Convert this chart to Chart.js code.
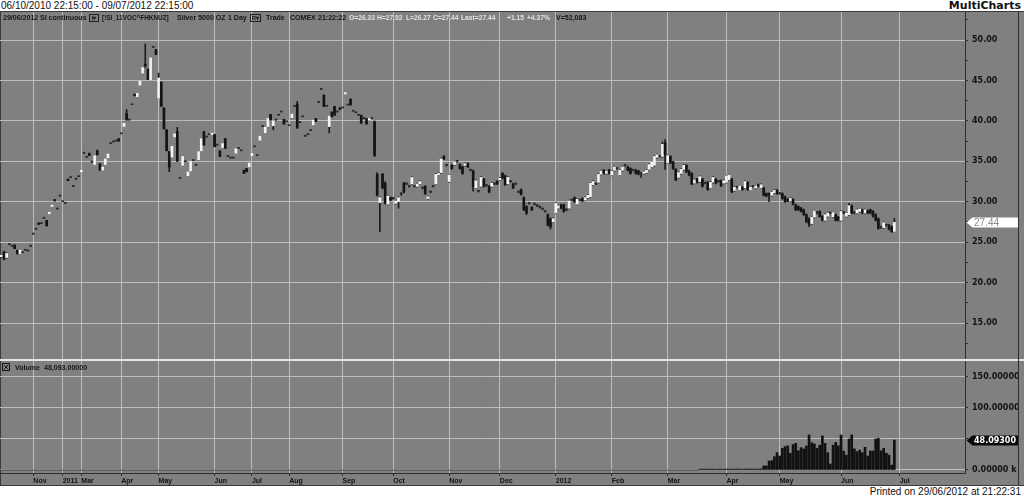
<!DOCTYPE html>
<html><head><meta charset="utf-8">
<script src="https://cdn.jsdelivr.net/npm/chart.js@4/dist/chart.umd.min.js"></script>
<style>
html,body{margin:0;padding:0;background:#fff;width:1024px;height:497px;overflow:hidden;}
#hdr{position:absolute;left:1px;top:0px;font:10px 'Liberation Sans',Arial,sans-serif;color:#111;line-height:11px;white-space:pre;}
#brand{position:absolute;right:3px;top:0px;font:bold 11px 'DejaVu Sans',sans-serif;line-height:12px;color:#111;}
#frame{position:absolute;left:0;top:11px;width:1024px;height:475px;background:#808080;border-top:1px solid #3a3a3a;border-bottom:1px solid #3a3a3a;border-left:1px solid #3a3a3a;box-sizing:border-box;}
#pc{position:absolute;left:0;top:12px;}
#vc{position:absolute;left:0;top:361px;}
#sep{position:absolute;left:0;top:359px;width:1024px;height:2px;background:#e4e4e4;}
#vline{position:absolute;left:1018px;top:12px;width:1px;height:473px;background:#303030;}
.t{position:absolute;font:bold 8px 'Liberation Sans',Arial,sans-serif;color:#151515;white-space:pre;line-height:9px;transform:scaleX(0.88);transform-origin:0 0;}
.n{transform:scaleX(0.8);}
.lt{color:#e2e2e2;transform:scaleX(0.84);}
.bx{position:absolute;top:14px;height:6px;border:1px solid #202020;font:bold 6px 'Liberation Sans',Arial,sans-serif;line-height:6px;color:#151515;text-align:center;}
#vbox{position:absolute;left:2px;top:363px;}
#printed{position:absolute;right:3px;top:487px;font:10px 'Liberation Sans',Arial,sans-serif;color:#111;line-height:10px;}
</style>
</head><body>
<div id="hdr">06/10/2010 22:15:00 - 09/07/2012 22:15:00</div>
<div id="brand">MultiCharts</div>
<div id="frame"></div>
<canvas id="pc" width="1018" height="347"></canvas>
<div id="sep"></div>
<canvas id="vc" width="1018" height="124"></canvas>
<div id="vline"></div>

<span class="t" style="left:3px;top:13px">29/06/2012</span>
<span class="t" style="left:40px;top:13px">SI continuous</span>
<span class="bx" style="left:89px;width:8px">I▾</span>
<span class="t n" style="left:102px;top:13px">[!SI_11VOC^FHKNUZ]</span>
<span class="t" style="left:177px;top:13px">Silver 5000 OZ</span>
<span class="t" style="left:228px;top:13px">1 Day</span>
<span class="bx" style="left:250px;width:9px">R▾</span>
<span class="t" style="left:266px;top:13px">Trade</span>
<span class="t" style="left:290px;top:13px">COMEX</span>
<span class="t" style="left:318px;top:13px">21:22:22</span>
<span class="t lt" style="left:349px;top:13px">O=26.33</span>
<span class="t lt" style="left:377px;top:13px">H=27.92</span>
<span class="t lt" style="left:406px;top:13px">L=26.27</span>
<span class="t lt" style="left:433px;top:13px">C=27.44</span>
<span class="t lt" style="left:461px;top:13px">Last=27.44</span>
<span class="t lt" style="left:507px;top:13px">+1.15</span>
<span class="t lt" style="left:527px;top:13px">+4.37%</span>
<span class="t" style="left:556px;top:13px">V=52,083</span>

<svg id="vbox" width="8" height="8" viewBox="0 0 8 8"><rect x="0.5" y="0.5" width="7" height="7" fill="none" stroke="#151515"/><path d="M2 2L6 6M6 2L2 6" stroke="#151515" stroke-width="1"/></svg>
<span class="t" style="left:15px;top:363px">Volume</span>
<span class="t" style="left:44px;top:363px">48,093.00000</span>
<div id="printed">Printed on 29/06/2012 at 21:22:31</div>
<script>
// ---- data (one entry per daily bar) ----
const open = [
23.2,23.8,23.1,24.7,24.5,24.6,24.0,23.6,23.7,24.0,
23.9,24.5,26.0,26.6,27.35,27.3,27.95,27.7,28.5,29.4,
30.25,29.1,30.7,30.0,29.8,32.8,33.0,31.9,32.8,33.1,
33.7,36.0,35.5,36.0,34.9,34.6,36.3,34.7,33.9,34.6,
35.4,37.2,37.4,37.5,37.8,38.4,39.3,40.9,40.1,42.0,
43.3,43.0,44.4,45.9,47.0,46.4,45.1,49.1,48.8,42.8,
44.8,41.6,38.9,36.2,35.5,38.0,38.7,32.9,34.5,34.95,
33.2,33.8,35.1,34.5,35.2,36.3,38.7,38.0,38.3,38.3,
38.3,37.0,36.3,36.7,37.8,35.6,35.4,35.4,36.0,36.6,
36.3,33.9,34.1,34.3,35.7,36.8,35.7,37.6,39.3,38.5,
39.3,40.8,39.4,40.1,40.7,41.1,40.2,39.9,39.4,40.4,
41.8,42.1,39.8,40.5,38.1,38.3,38.8,39.5,40.3,42.3,
43.9,43.2,41.8,39.3,41.1,41.8,41.1,41.6,41.6,43.3,
41.96,42.7,41.2,41.0,40.7,40.7,40.3,40.3,40.1,40.3,
39.9,33.4,29.9,33.4,32.3,29.7,30.5,30.4,29.8,30.0,
30.95,32.3,32.2,31.9,32.2,31.9,31.9,32.2,31.7,31.9,
30.4,31.2,31.9,32.2,33.3,33.6,35.6,34.5,32.5,34.5,
34.6,35.0,34.6,34.3,34.5,34.7,33.9,33.8,31.7,31.3,
31.9,32.8,32.0,31.9,31.9,32.2,32.5,32.7,33.5,33.2,
32.2,32.5,32.2,32.2,31.2,31.5,30.5,29.4,29.8,29.3,
29.7,29.5,29.35,29.1,28.8,28.4,27.9,27.5,28.6,29.2,
29.6,29.6,29.0,29.2,30.2,30.5,29.7,30.2,30.4,30.2,
30.5,30.6,32.1,32.2,32.4,33.4,33.9,33.5,33.9,33.3,
33.9,34.1,33.3,33.9,34.5,34.3,34.1,33.9,33.9,33.8,
33.5,33.5,33.6,34.0,34.3,34.5,35.5,35.6,35.6,37.3,
34.8,35.6,34.95,34.0,33.0,33.5,34.0,34.5,33.8,33.5,
32.3,32.8,32.5,32.8,32.3,32.4,31.7,32.4,32.8,32.5,
32.6,32.3,32.4,32.7,32.8,31.4,31.8,31.45,31.8,31.7,
32.4,31.45,31.9,31.7,32.1,31.7,31.7,31.0,31.0,30.8,
31.1,31.45,31.0,31.0,30.6,30.3,30.1,30.3,29.6,29.4,
29.2,29.0,28.4,27.9,27.3,28.1,28.65,28.8,28.2,27.7,
28.2,28.6,28.15,28.4,28.1,27.7,28.65,28.2,28.4,29.5,
28.65,28.6,28.8,29.0,28.6,28.9,29.0,28.8,28.4,27.9,
26.8,26.8,27.1,27.1,26.9,26.33];
const close = [
23.4,22.9,23.6,24.7,24.5,24.2,23.6,24.05,23.7,24.0,
23.9,24.5,26.0,26.6,27.2,27.3,27.95,27.0,28.7,29.6,
30.1,29.1,30.7,30.0,29.8,32.6,33.0,31.9,32.8,33.1,
33.9,36.0,35.5,35.7,34.9,35.7,35.8,33.9,34.3,35.3,
35.9,37.2,37.4,37.5,37.5,38.4,39.7,40.1,40.1,42.0,
43.1,43.4,44.9,46.6,46.8,45.1,47.8,49.1,48.2,45.3,
41.8,39.0,36.3,34.3,36.85,38.4,35.0,32.9,35.6,34.95,
33.7,35.0,35.1,34.5,36.2,37.8,37.0,38.0,38.3,38.5,
36.8,37.0,35.6,37.2,36.6,35.6,35.4,35.4,36.55,36.6,
36.3,33.5,33.7,34.8,36.0,36.8,35.7,38.1,39.3,39.2,
40.3,40.1,40.0,40.1,40.7,41.1,39.6,39.9,39.4,40.85,
41.8,39.1,39.8,40.5,38.1,38.3,38.8,40.1,39.9,42.3,
43.9,41.8,41.8,40.6,40.5,40.7,41.1,41.4,41.6,43.5,
41.96,41.96,41.2,41.0,40.7,39.7,40.3,39.6,40.3,40.3,
35.7,30.8,30.5,31.7,29.8,30.7,30.2,30.4,30.1,30.5,
30.95,31.2,32.2,31.9,33.0,31.9,32.2,32.5,31.7,31.0,
30.6,31.2,31.9,33.4,33.5,35.3,35.3,34.5,33.3,34.1,
34.95,35.0,34.1,33.5,34.7,34.3,33.9,31.9,32.6,31.3,
33.0,31.9,32.0,31.2,32.3,32.2,32.2,32.9,32.9,32.1,
33.0,32.5,31.7,32.2,31.2,30.9,29.0,28.6,29.8,29.0,
29.7,29.5,29.35,29.1,28.8,27.1,26.9,27.9,29.8,29.5,
29.2,28.8,29.0,30.1,30.2,30.0,30.3,30.2,30.1,30.5,
30.8,32.3,32.5,32.2,33.4,33.8,33.5,33.8,33.5,33.8,
34.3,34.1,33.9,34.3,34.5,33.9,33.5,33.9,33.5,33.4,
33.5,33.7,33.9,34.6,34.95,35.6,35.8,35.6,37.1,35.8,
35.7,34.8,34.1,32.7,33.6,34.0,34.5,33.7,33.3,32.2,
32.7,32.4,33.1,31.9,32.3,31.5,32.4,33.0,32.3,32.5,
31.95,32.6,33.2,33.3,31.2,31.8,31.8,31.95,31.5,32.5,
31.5,31.8,31.9,31.95,31.9,32.1,30.8,30.7,30.8,31.2,
31.4,31.0,31.0,30.4,30.0,30.1,30.4,29.7,29.0,29.0,
28.8,28.4,27.5,27.2,28.1,28.85,28.65,28.15,27.7,28.4,
28.6,28.6,28.65,27.7,27.7,28.8,28.65,28.6,29.5,28.6,
28.65,29.0,29.1,28.6,29.0,28.6,28.6,28.2,27.7,26.7,
26.8,27.4,27.1,26.6,26.3,27.44];
const high = [
23.5,23.9,23.7,24.7,24.5,24.7,24.0,24.1,23.7,24.0,
23.9,24.5,26.0,26.6,27.4,27.3,27.95,27.7,28.7,29.6,
30.3,29.1,30.7,30.0,29.8,32.8,33.0,31.9,32.8,33.1,
33.9,36.0,35.5,36.0,34.9,35.7,36.4,34.7,34.3,35.3,
35.9,37.2,37.4,37.5,37.8,38.4,39.7,41.4,40.1,42.0,
43.3,43.4,44.9,46.6,49.5,46.4,47.8,49.1,48.8,45.9,
44.8,41.6,38.9,36.2,36.85,38.4,39.2,32.9,35.6,34.95,
33.7,35.0,35.1,34.5,36.2,37.8,38.7,38.0,38.3,38.5,
38.3,37.0,36.3,37.2,37.8,35.6,35.4,35.4,36.55,36.6,
36.3,33.9,34.1,34.8,36.0,36.8,35.7,38.1,39.3,39.2,
40.3,40.8,40.0,40.1,40.7,41.1,40.2,39.9,39.4,40.85,
41.8,42.4,39.8,40.5,38.1,38.3,38.8,40.1,40.3,42.3,
43.9,43.2,41.8,40.6,41.1,41.8,41.1,41.6,41.6,43.5,
41.96,42.7,41.2,41.0,40.7,40.7,40.3,40.3,40.3,40.3,
40.0,33.6,30.6,33.5,32.5,30.8,30.6,30.5,30.2,30.6,
31.1,32.4,32.3,32.0,33.1,32.0,32.3,32.6,31.8,32.0,
30.7,31.3,32.0,33.5,33.6,35.4,35.7,34.6,33.4,34.6,
35.0,35.1,34.7,34.4,34.8,34.8,34.0,33.9,32.7,31.4,
33.1,32.9,32.1,32.0,32.4,32.3,32.6,33.0,33.6,33.3,
33.1,32.6,32.3,32.3,31.3,31.6,30.6,29.5,29.9,29.4,
29.8,29.6,29.4,29.2,28.9,28.5,28.0,28.0,29.9,29.6,
29.7,29.7,29.1,30.2,30.3,30.6,30.4,30.3,30.5,30.6,
30.9,32.4,32.6,32.3,33.5,33.9,34.0,33.9,34.0,33.9,
34.4,34.2,34.0,34.4,34.6,34.4,34.2,34.0,34.0,33.9,
33.6,33.8,34.0,34.7,35.0,35.7,35.9,35.7,37.4,37.7,
35.8,35.7,35.0,34.1,33.7,34.1,34.6,34.6,33.9,33.6,
32.8,32.9,33.2,32.9,32.4,32.5,32.5,33.1,32.9,32.6,
32.7,32.7,33.3,33.4,32.9,31.9,31.9,32.0,31.9,32.6,
32.5,31.9,32.0,32.0,32.2,32.2,31.8,31.1,31.1,31.3,
31.5,31.5,31.1,31.1,30.7,30.4,30.5,30.4,29.7,29.5,
29.3,29.1,28.5,28.0,28.2,28.9,28.8,28.9,28.3,28.5,
28.7,28.7,28.7,28.5,28.2,28.9,28.8,28.7,29.8,29.6,
28.8,29.1,29.2,29.1,29.1,29.0,29.1,28.9,28.5,28.0,
27.0,27.5,27.2,27.2,27.0,27.92];
const low = [
23.1,22.8,23.0,24.7,24.5,24.2,23.5,23.6,23.7,24.0,
23.9,24.5,26.0,26.6,27.2,27.3,27.95,27.0,28.5,29.4,
30.1,29.1,30.7,30.0,29.8,32.6,33.0,31.9,32.8,33.1,
33.7,36.0,35.5,35.7,34.9,34.6,35.8,33.9,33.9,34.6,
35.4,37.2,37.4,37.5,37.5,38.4,39.3,40.1,40.1,42.0,
43.1,43.0,44.4,45.9,46.6,45.1,45.1,49.1,48.2,42.8,
41.8,39.0,36.3,33.7,35.5,38.0,35.0,32.9,34.5,34.95,
33.2,33.8,35.1,34.5,35.2,36.3,37.0,38.0,38.3,38.3,
36.8,37.0,35.6,36.7,36.6,35.6,35.4,35.4,36.0,36.6,
36.3,33.5,33.7,34.3,35.7,36.8,35.7,37.6,39.3,38.5,
39.3,40.1,38.9,40.1,40.7,41.1,39.6,39.9,39.4,40.4,
41.8,39.1,39.8,40.5,38.1,38.3,38.8,39.5,39.9,42.3,
43.9,41.8,41.8,38.5,40.5,40.7,41.1,41.4,41.6,43.3,
41.96,41.96,41.2,41.0,40.7,39.7,40.3,39.6,40.1,40.3,
35.6,30.7,26.3,31.6,29.7,29.6,30.1,30.3,29.7,29.2,
30.8,31.1,32.1,31.8,32.1,31.8,31.8,32.1,31.6,30.9,
30.3,31.1,31.8,32.1,33.2,33.5,35.2,34.4,32.4,34.0,
34.5,34.9,34.0,33.4,34.4,34.2,33.8,31.3,31.6,31.2,
31.8,31.8,31.9,31.1,31.8,32.1,32.1,32.6,32.8,32.0,
32.1,32.4,31.6,32.1,31.1,30.8,28.9,28.4,29.7,28.9,
29.6,29.4,29.2,29.0,28.7,27.0,26.6,27.4,28.5,29.1,
29.1,28.7,28.9,29.1,30.1,29.9,29.6,30.1,30.0,30.1,
30.4,30.5,32.0,32.1,32.3,33.3,33.4,33.4,33.4,33.2,
33.8,34.0,33.2,33.8,34.4,33.8,33.4,33.8,33.4,33.3,
33.0,33.4,33.5,33.9,34.2,34.4,35.4,35.5,35.5,34.0,
34.7,34.7,34.0,32.6,32.9,33.4,33.9,33.6,33.2,32.1,
32.2,32.3,32.4,31.8,32.2,31.4,31.6,32.3,32.2,32.4,
31.9,32.2,32.3,32.6,31.1,31.3,31.7,31.4,31.4,31.6,
31.4,31.4,31.8,31.6,31.8,31.6,30.7,30.6,30.0,30.7,
31.0,30.9,30.9,30.3,29.9,30.0,30.0,29.6,28.9,28.9,
28.7,28.3,27.4,26.9,27.2,28.0,28.5,28.1,27.6,27.6,
28.1,28.5,28.1,27.6,27.6,27.6,28.5,28.1,28.3,28.5,
28.5,28.5,28.7,28.5,28.5,28.5,28.5,28.1,27.6,26.6,
26.7,26.7,27.0,26.5,26.2,26.27];
// volume in thousands
const volume = [
0,0,0,0,0,0,0,0,0,0,0,0,0,0,0,0,0,0,0,0,
0,0,0,0,0,0,0,0,0,0,0,0,0,0,0,0,0,0,0,0,
0,0,0,0,0,0,0,0,0,0,0,0,0,0,0,0,0,0,0,0,
0,0,0,0,0,0,0,0,0,0,0,0,0,0,0,0,0,0,0,0,
0,0,0,0,0,0,0,0,0,0,0,0,0,0,0,0,0,0,0,0,
0,0,0,0,0,0,0,0,0,0,0,0,0,0,0,0,0,0,0,0,
0,0,0,0,0,0,0,0,0,0,0,0,0,0,0,0,0,0,0,0,
0,0,0,0,0,0,0,0,0,0,0,0,0,0,0,0,0,0,0,0,
0,0,0,0,0,0,0,0,0,0,0,0,0,0,0,0,0,0,0,0,
0,0,0,0,0,0,0,0,0,0,0,0,0,0,0,0,0,0,0,0,
0,0,0,0,0,0,0,0,0,0,0,0,0,0,0,0,0,0,0,0,
0,0,0,0,0,0,0,0,0,0,0,0,0,0,0,0,0,0,0,0,
0,0,0,0,0,0,0,0,0,0,0,0,0,0,0,0,0,0,0,0,
0,0,
1.2,1.5,1.4,1.3,1.6,1.5,1.2,1.4,1.5,1.3,1.6,1.4,
1.5,1.3,1.6,1.5,1.4,1.6,1.5,1.7,1.5,1.6,1.5,1.8,
6.5,6.5,14.5,15,21.5,28,22.6,35,37.6,39,
27,41,43,31,36,34,38.7,56.5,44,42,
35,40,55,43,28,9.7,40,44.6,39,56.5,
30.6,24,50,56.5,34,29.6,32,28,36.6,22.6,
30.6,30.6,50,51,31,35,27,24,8,48.093];

const slotCount = 362;   // daily slots on the time axis (incl. empty future)
const monthTickSlots  = [12,23,30,45,59,80,94,108,128,147,168,187,208,229,250,272,292,315,337];
const monthTickLabels = ['Nov','2011','Mar','Apr','May','Jun','Jul','Aug','Sep','Oct','Nov','Dec','2012','Feb','Mar','Apr','May','Jun','Jul'];
const priceTicks  = [12.5,15,17.5,20,22.5,25,27.5,30,32.5,35,37.5,40,42.5,45,47.5,50,52.5];
const volumeTicks = [0,50,100,150];
const volumeTickLabels = ['0.00000 k','','100.00000 k','150.00000 k'];
const lastClose = 27.44;
const lastVolume = 48.093;

// ---- build ----
const slotLabels = Array.from({length: slotCount}, () => '');
monthTickSlots.forEach((s, k) => { slotLabels[s] = monthTickLabels[k]; });

const GRID = '#bdbdbd';
const AXIS = '#2e2e2e';
const TXT = '#121212';

function xScale(showTicks) {
  return {
    type: 'category', offset: true,
    grid: { display: true, offset: false, color: GRID, borderDash: [1, 2], lineWidth: 1,
            drawTicks: showTicks, tickLength: 3, tickColor: AXIS, tickBorderDash: [] },
    border: { display: showTicks, color: AXIS, width: 1 },
    ticks: { display: showTicks, autoSkip: false, maxRotation: 0, minRotation: 0, align: 'start', padding: 1,
             color: TXT, font: { family: "'Liberation Sans',Arial", size: 7, weight: 'bold' } },
    afterBuildTicks: s => { s.ticks = monthTickSlots.map(v => ({ value: v })); },
    afterFit: s => { s.height = showTicks ? 12 : 0; s.paddingLeft = 0; s.paddingRight = 0; }
  };
}

function markerPlugin(id) {
  return {
    id,
    afterDraw(chart, args, o) {
      const y = Math.round(chart.scales.y.getPixelForValue(o.value)) + 0.5;
      const x0 = chart.chartArea.right;
      const ctx = chart.ctx;
      ctx.save();
      ctx.fillStyle = o.bg;
      ctx.beginPath();
      ctx.moveTo(x0 + 1.5, y);
      ctx.lineTo(x0 + 7.5, y - 5);
      ctx.lineTo(chart.width, y - 5);
      ctx.lineTo(chart.width, y + 5);
      ctx.lineTo(x0 + 7.5, y + 5);
      ctx.closePath();
      ctx.fill();
      ctx.fillStyle = o.fg;
      ctx.font = o.font;
      ctx.textBaseline = 'middle';
      ctx.fillText(o.text, x0 + 9, y + 0.5);
      ctx.restore();
    }
  };
}

const bodyColor = i => close[i] > open[i] ? '#f4f4f4' : (close[i] < open[i] ? '#141414' : '#2a2a2a');

new Chart(document.getElementById('pc'), {
  type: 'bar',
  data: {
    labels: slotLabels,
    datasets: [
      { data: open.map((o, i) => [low[i], high[i]]), barThickness: 1, grouped: false, order: 2,
        backgroundColor: '#1c1c1c', borderWidth: 0 },
      { data: open.map((o, i) => [o, close[i]]), barThickness: 2, minBarLength: 1, grouped: false, order: 1,
        backgroundColor: ctx => bodyColor(ctx.dataIndex), borderWidth: 0 }
    ]
  },
  options: {
    responsive: false, animation: false,
    layout: { padding: 0 },
    plugins: { legend: { display: false }, tooltip: { enabled: false },
      lastPrice: { value: lastClose, text: lastClose.toFixed(2), bg: '#ffffff', fg: '#8c8c8c', font: "10px 'Liberation Sans', Arial" } },
    scales: {
      x: xScale(false),
      y: {
        position: 'right', min: 10.548, max: 53.463,
        afterBuildTicks: s => { s.ticks = priceTicks.map(v => ({ value: v })); },
        afterFit: s => { s.width = 53; s.paddingTop = 0; s.paddingBottom = 0; },
        grid: { color: c => (c.tick && c.tick.value % 5 === 0) ? GRID : 'rgba(0,0,0,0)', borderDash: [1, 2],
                drawTicks: true, tickLength: 3, tickColor: AXIS, tickBorderDash: [] },
        border: { display: true, color: AXIS, width: 1 },
        ticks: { padding: 4, color: TXT, font: { family: "'DejaVu Sans'", size: 8, weight: 'bold' },
                 callback: v => (v % 5 === 0 ? v.toFixed(2) : '') }
      }
    }
  },
  plugins: [markerPlugin('lastPrice')]
});

new Chart(document.getElementById('vc'), {
  type: 'bar',
  data: {
    labels: slotLabels,
    datasets: [
      { data: volume, barThickness: 2, backgroundColor: '#111111', borderWidth: 0 }
    ]
  },
  options: {
    responsive: false, animation: false,
    layout: { padding: 0 },
    plugins: { legend: { display: false }, tooltip: { enabled: false },
      lastVol: { value: lastVolume, text: lastVolume.toFixed(5), bg: '#0a0a0a', fg: '#ffffff', font: "bold 8px 'DejaVu Sans'" } },
    scales: {
      x: xScale(true),
      y: {
        position: 'right', min: -4.84, max: 175.8,
        afterBuildTicks: s => { s.ticks = volumeTicks.map(v => ({ value: v })); },
        afterFit: s => { s.width = 53; s.paddingTop = 0; s.paddingBottom = 0; },
        grid: { color: GRID, borderDash: [1, 2], drawTicks: true, tickLength: 3, tickColor: AXIS, tickBorderDash: [] },
        border: { display: true, color: AXIS, width: 1 },
        ticks: { padding: 4, color: TXT, font: { family: "'DejaVu Sans'", size: 8, weight: 'bold' },
                 callback: (v, i) => volumeTickLabels[volumeTicks.indexOf(v)] }
      }
    }
  },
  plugins: [markerPlugin('lastVol')]
});
</script>
</body></html>
